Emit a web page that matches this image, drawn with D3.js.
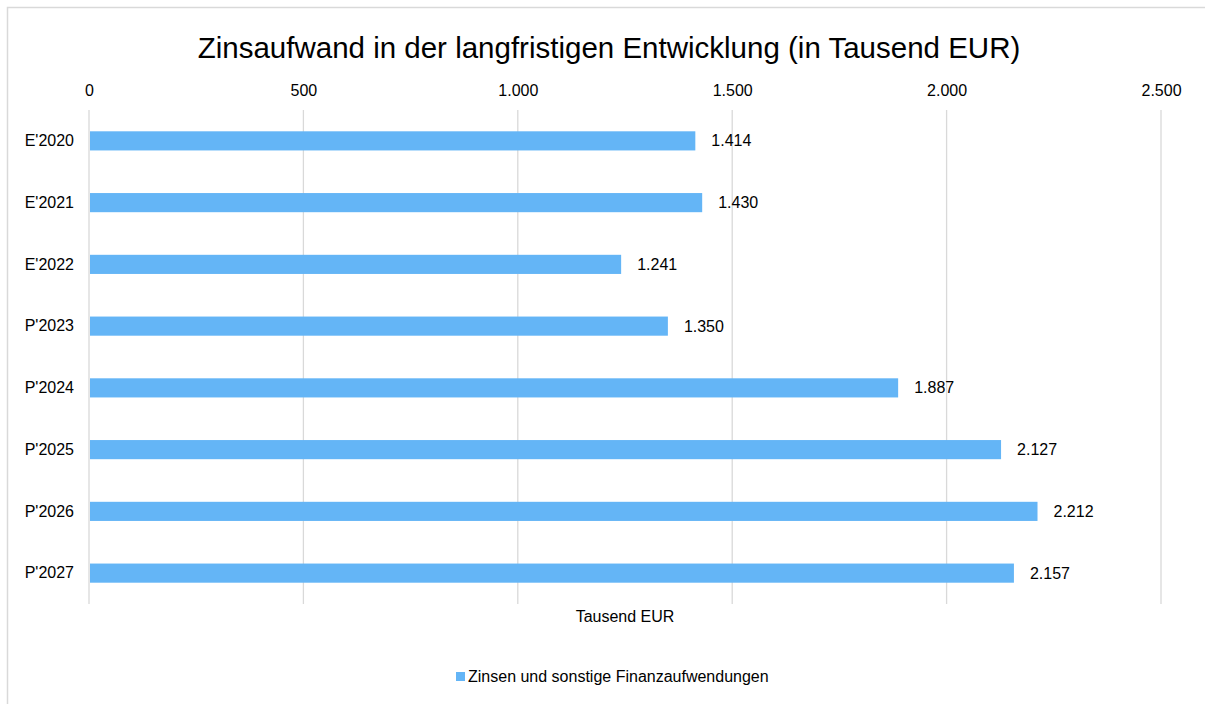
<!DOCTYPE html>
<html>
<head>
<meta charset="utf-8">
<script src="https://cdn.jsdelivr.net/npm/d3@7"></script>
<style>
  body { margin: 0; background: #fff; }
  svg { display: block; font-family: "Liberation Sans", Arial, sans-serif; }
</style>
</head>
<body>
<script>
'use strict';

// chart data
const categories = ["E'2020", "E'2021", "E'2022", "P'2023", "P'2024", "P'2025", "P'2026", "P'2027"];
const values = [1414, 1430, 1241, 1350, 1887, 2127, 2212, 2157];
const xTicks = [0, 500, 1000, 1500, 2000, 2500];
const seriesName = "Zinsen und sonstige Finanzaufwendungen";
const titleText = "Zinsaufwand in der langfristigen Entwicklung (in Tausend EUR)";
const axisTitle = "Tausend EUR";

const width = 1205, height = 704;
const barColor = "#64b5f6";
const gridColor = "#d9d9d9";
const labelSize = 16;

// german number format (1.414)
const de = d3.formatLocale({ decimal: ",", thousands: ".", grouping: [3], currency: ["", " €"] });
const fmt = de.format(",");

const svg = d3.select("body").append("svg")
  .attr("width", width)
  .attr("height", height);

// chart border
svg.append("rect")
  .attr("x", 7.5).attr("y", 7.5)
  .attr("width", width + 10).attr("height", height + 10)
  .attr("fill", "none")
  .attr("stroke", gridColor)
  .attr("stroke-width", 1.5);

// scales
const x = d3.scaleLinear().domain([0, 2500]).range([89, 1161]);
const y = d3.scaleBand().domain(categories).range([110, 604]).paddingInner(0.69).paddingOuter(0.345);

// gridlines
svg.append("g").selectAll("line")
  .data(xTicks)
  .join("line")
    .attr("x1", d => x(d)).attr("x2", d => x(d))
    .attr("y1", 110).attr("y2", 604)
    .attr("stroke", gridColor)
    .attr("stroke-width", 1.3);

// top axis labels
const xAxis = d3.axisTop(x).tickValues(xTicks).tickFormat(fmt).tickSize(0).tickPadding(0);
const gx = svg.append("g").attr("transform", "translate(0, 96)").call(xAxis);
gx.select(".domain").remove();
gx.attr("font-family", null).attr("font-size", labelSize);
gx.selectAll("text").attr("fill", "#000");

// category labels
const yAxis = d3.axisLeft(y).tickSize(0).tickPadding(0);
const gy = svg.append("g").attr("transform", "translate(74, 0)").call(yAxis);
gy.select(".domain").remove();
gy.attr("font-family", null).attr("font-size", labelSize);
gy.selectAll("text").attr("fill", "#000");

// bars
svg.append("g").selectAll("rect")
  .data(values)
  .join("rect")
    .attr("x", x(0) + 1)
    .attr("y", (d, i) => y(categories[i]))
    .attr("width", d => x(d) - x(0) - 1)
    .attr("height", y.bandwidth())
    .attr("fill", barColor);

// value labels
svg.append("g").selectAll("text")
  .data(values)
  .join("text")
    .attr("x", d => x(d) + 16)
    .attr("y", (d, i) => y(categories[i]) + y.bandwidth() / 2)
    .attr("dy", "0.35em")
    .attr("font-size", labelSize)
    .text(d => fmt(d));

// title
svg.append("text")
  .attr("x", 609).attr("y", 58)
  .attr("text-anchor", "middle")
  .attr("font-size", 29.5)
  .text(titleText);

// axis title
svg.append("text")
  .attr("x", 625).attr("y", 622)
  .attr("text-anchor", "middle")
  .attr("font-size", labelSize)
  .text(axisTitle);

// legend
svg.append("rect")
  .attr("x", 456).attr("y", 672)
  .attr("width", 9).attr("height", 9)
  .attr("fill", barColor);
svg.append("text")
  .attr("x", 468).attr("y", 676.5)
  .attr("dy", "0.35em")
  .attr("font-size", labelSize)
  .text(seriesName);
</script>
</body>
</html>
